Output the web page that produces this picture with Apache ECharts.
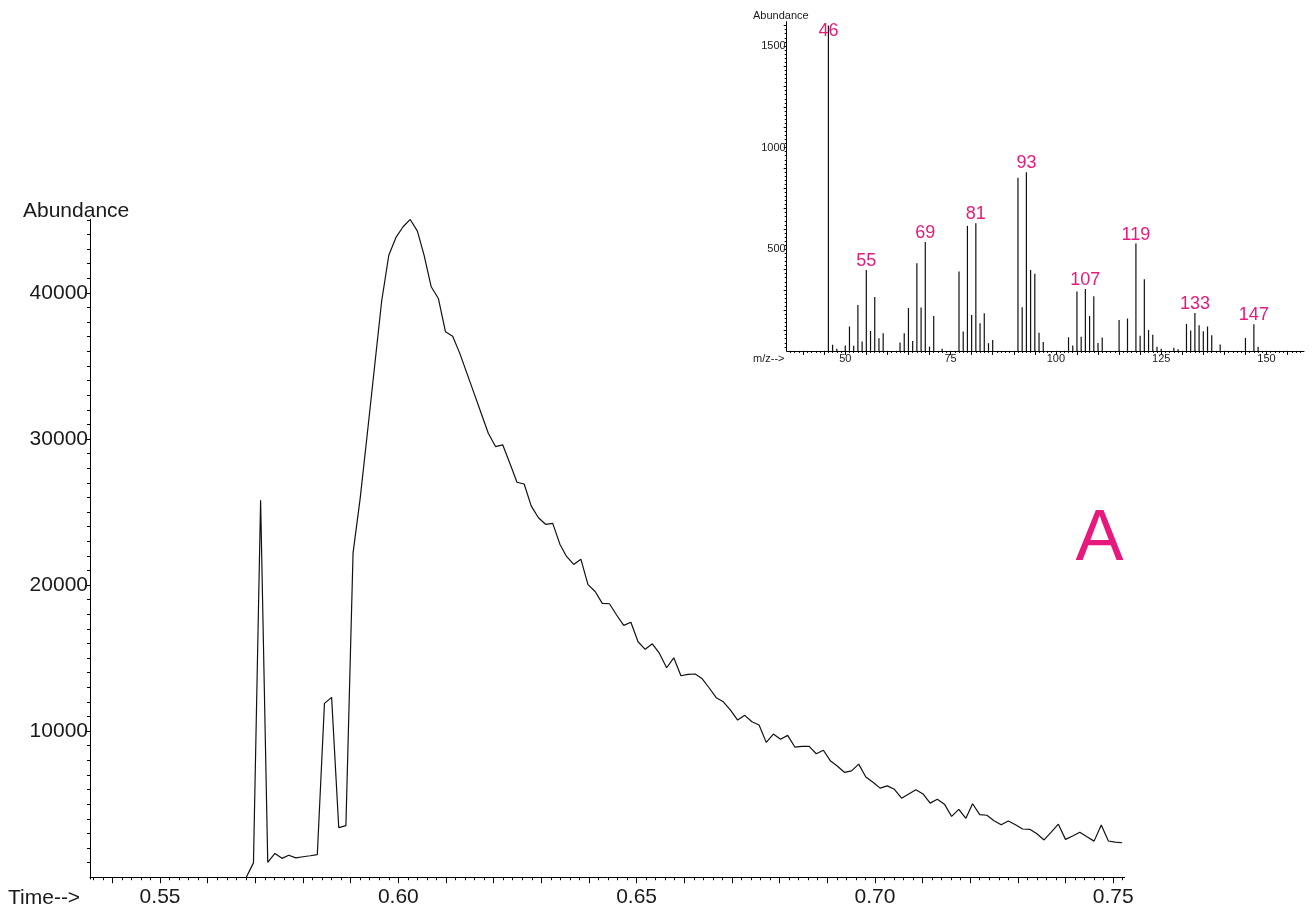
<!DOCTYPE html>
<html>
<head>
<meta charset="utf-8">
<title>TIC and spectrum</title>
<script src="https://cdn.jsdelivr.net/npm/echarts@6.0.0/dist/echarts.min.js"></script>
<style>
  html, body { margin: 0; padding: 0; background: #fff; }
  #main { width: 1312px; height: 912px; }
</style>
</head>
<body>
<div id="main"></div>
<script>
// chromatogram (time in min, abundance)
var times = [
  0.5681, 0.5696, 0.5711, 0.5726, 0.5741, 0.5756, 0.5770, 0.5785, 0.5800, 0.5815,
  0.5830, 0.5845, 0.5860, 0.5875, 0.5890, 0.5905, 0.5920, 0.5935, 0.5950, 0.5965,
  0.5980, 0.5995, 0.6010, 0.6025, 0.6040, 0.6054, 0.6069, 0.6084, 0.6099, 0.6114,
  0.6129, 0.6144, 0.6159, 0.6174, 0.6189, 0.6204, 0.6219, 0.6234, 0.6249, 0.6264,
  0.6279, 0.6294, 0.6309, 0.6324, 0.6339, 0.6353, 0.6368, 0.6383, 0.6398, 0.6413,
  0.6428, 0.6443, 0.6458, 0.6473, 0.6488, 0.6503, 0.6518, 0.6533, 0.6548, 0.6563,
  0.6578, 0.6593, 0.6608, 0.6623, 0.6637, 0.6652, 0.6667, 0.6682, 0.6697, 0.6712,
  0.6727, 0.6742, 0.6757, 0.6772, 0.6787, 0.6802, 0.6817, 0.6832, 0.6847, 0.6862,
  0.6877, 0.6892, 0.6907, 0.6921, 0.6936, 0.6951, 0.6966, 0.6981, 0.6996, 0.7011,
  0.7026, 0.7041, 0.7056, 0.7071, 0.7086, 0.7101, 0.7116, 0.7131, 0.7146, 0.7161,
  0.7176, 0.7191, 0.7205, 0.7220, 0.7235, 0.7250, 0.7265, 0.7280, 0.7295, 0.7310,
  0.7325, 0.7340, 0.7355, 0.7370, 0.7385, 0.7400, 0.7415, 0.7430, 0.7445, 0.7460,
  0.7475, 0.7490, 0.7504, 0.7519
];
var abundance = [
  0, 980, 25800, 1020, 1630, 1290, 1500, 1320, 1400, 1470,
  1550, 11900, 12310, 3390, 3530, 22200, 25950, 30390, 34910, 39430,
  42580, 43800, 44530, 45030, 44230, 42590, 40420, 39620, 37340, 37040,
  35860, 34490, 33120, 31750, 30380, 29480, 29600, 28340, 27040, 26920,
  25400, 24610, 24160, 24220, 22800, 21960, 21410, 21770, 20030, 19560,
  18750, 18720, 17950, 17240, 17450, 16120, 15600, 15980, 15320, 14340,
  15020, 13790, 13890, 13910, 13610, 12970, 12290, 12010, 11440, 10760,
  11080, 10640, 10420, 9230, 9800, 9440, 9710, 8910, 8960, 8960,
  8450, 8690, 7950, 7610, 7180, 7280, 7740, 6860, 6500, 6100,
  6250, 6020, 5410, 5700, 5980, 5700, 5070, 5340, 5000, 4160,
  4640, 4030, 5030, 4280, 4240, 3870, 3590, 3850, 3590, 3300,
  3280, 2970, 2550, 3080, 3630, 2590, 2820, 3080, 2770, 2470,
  3580, 2480, 2400, 2360
];

// mass spectrum (inset)
var mz = [
  46, 47, 48, 50, 51, 52, 53, 54, 55, 56, 57, 58, 59, 63, 64, 65, 66, 67, 68, 69,
  70, 71, 73, 77, 78, 79, 80, 81, 82, 83, 84, 85, 91, 92, 93, 94, 95, 96, 97, 103,
  104, 105, 106, 107, 108, 109, 110, 111, 115, 117, 119, 120, 121, 122, 123, 124, 125, 128, 129, 131,
  132, 133, 134, 135, 136, 137, 139, 145, 147, 148
];
var mzAbundance = [
  1600, 30, 10, 26, 120, 25, 226, 46, 398, 98, 265, 62, 87, 41, 87, 211, 49, 431, 213, 536,
  21, 172, 10, 390, 95, 615, 177, 628, 136, 185, 38, 54, 851, 215, 879, 398, 379, 89, 44, 67,
  26, 292, 69, 305, 172, 269, 39, 66, 152, 159, 528, 75, 352, 103, 79, 21, 11, 16, 8, 133,
  100, 187, 126, 97, 120, 77, 31, 64, 131, 20
];
var labeledPeaks = [46, 55, 69, 81, 93, 107, 119, 133, 147];

// tick labels
var timeLabels = [0.55, 0.60, 0.65, 0.70, 0.75];
var abundanceLabels = [10000, 20000, 30000, 40000];
var mzLabels = [50, 75, 100, 125, 150];
var mzAbundanceLabels = [500, 1000, 1500];

function steps(from, to, step) {
  var out = [];
  for (var k = Math.ceil(from / step - 1e-9); k * step <= to + 1e-9; k++) {
    out.push(+(k * step).toFixed(6));
  }
  return out;
}

function plain(v) { return String(v); }

var FONT = '"Liberation Sans", Arial, sans-serif';
var INK = '#1a1a1a';
var PINK = '#e8197d';

var mainX = { min: 0.5353, max: 0.7524 };
var mainY = { min: -123, max: 45040 };
var insetX = { min: 36.1, max: 158.9 };
var insetY = { min: 0, max: 1619 };

function tickAxis(range, gridIndex, ticks, len, position) {
  return {
    type: 'value', gridIndex: gridIndex, min: range.min, max: range.max, position: position,
    axisLine: { show: false },
    axisTick: { show: true, length: len, customValues: ticks, lineStyle: { color: '#000', width: 1 } },
    axisLabel: { show: false },
    splitLine: { show: false }
  };
}

var myChart = echarts.init(document.getElementById('main'));

var option = {
  animation: false,
  backgroundColor: '#fff',
  grid: [
    { left: 90, right: 187.4, top: 219.3, bottom: 33 },
    { left: 786.7, right: 8, top: 21.7, bottom: 561.1 }
  ],
  xAxis: [
    {
      type: 'value', gridIndex: 0, min: mainX.min, max: mainX.max, position: 'bottom',
      axisLine: { show: true, lineStyle: { color: '#000', width: 1 } },
      axisTick: { show: true, length: 3, customValues: steps(0.536, 0.752, 0.002), lineStyle: { color: '#000' } },
      axisLabel: {
        show: true, customValues: timeLabels, margin: 8, color: INK, fontSize: 21, fontFamily: FONT,
        formatter: function (v) { return v.toFixed(2); }
      },
      splitLine: { show: false }
    },
    tickAxis(mainX, 0, steps(0.54, 0.75, 0.01), 6, 'bottom'),
    {
      type: 'value', gridIndex: 1, min: insetX.min, max: insetX.max, position: 'bottom',
      axisLine: { show: true, lineStyle: { color: '#000', width: 1 } },
      axisTick: { show: true, length: 2, customValues: steps(37, 158, 1), lineStyle: { color: '#000' } },
      axisLabel: { show: true, customValues: mzLabels, margin: 3, color: INK, fontSize: 11, fontFamily: FONT, formatter: plain },
      splitLine: { show: false }
    },
    tickAxis(insetX, 1, steps(40, 155, 5), 4, 'bottom')
  ],
  yAxis: [
    {
      type: 'value', gridIndex: 0, min: mainY.min, max: mainY.max, position: 'left',
      axisLine: { show: true, lineStyle: { color: '#000', width: 1 } },
      axisTick: { show: true, length: 3, customValues: steps(1000, 45000, 1000), lineStyle: { color: '#000' } },
      axisLabel: { show: true, customValues: abundanceLabels, margin: 2, color: INK, fontSize: 21, fontFamily: FONT, formatter: plain },
      splitLine: { show: false }
    },
    tickAxis(mainY, 0, steps(10000, 40000, 10000), 5, 'left'),
    {
      type: 'value', gridIndex: 1, min: insetY.min, max: insetY.max, position: 'left',
      axisLine: { show: true, lineStyle: { color: '#000', width: 1 } },
      axisTick: { show: true, length: 2, customValues: steps(20, 1600, 20), lineStyle: { color: '#000' } },
      axisLabel: { show: true, customValues: mzAbundanceLabels, margin: 1, color: INK, fontSize: 11, fontFamily: FONT, formatter: plain },
      splitLine: { show: false }
    },
    tickAxis(insetY, 1, steps(100, 1600, 100), 3, 'left')
  ],
  graphic: [
    { type: 'text', x: 23, y: 211, style: { text: 'Abundance', font: '21px ' + FONT, fill: INK, align: 'left', verticalAlign: 'middle' } },
    { type: 'text', x: 8, y: 898, style: { text: 'Time-->', font: '21px ' + FONT, fill: INK, align: 'left', verticalAlign: 'middle' } },
    { type: 'text', x: 753, y: 16, style: { text: 'Abundance', font: '11px ' + FONT, fill: INK, align: 'left', verticalAlign: 'middle' } },
    { type: 'text', x: 753, y: 359, style: { text: 'm/z-->', font: '11px ' + FONT, fill: INK, align: 'left', verticalAlign: 'middle' } },
    { type: 'text', x: 1099.5, y: 540, style: { text: 'A', font: '72px ' + FONT, fill: PINK, align: 'center', verticalAlign: 'middle' } }
  ],
  series: [
    {
      type: 'line', xAxisIndex: 0, yAxisIndex: 0,
      data: times.map(function (t, i) { return [t, abundance[i]]; }),
      symbol: 'none',
      lineStyle: { color: '#111', width: 1.2 }
    },
    {
      type: 'bar', xAxisIndex: 2, yAxisIndex: 2,
      barWidth: 1.2,
      itemStyle: { color: '#111' },
      label: {
        show: true, position: 'top', distance: 0, color: PINK, fontSize: 18, fontFamily: FONT,
        formatter: function (p) { return labeledPeaks.indexOf(p.value[0]) >= 0 ? String(p.value[0]) : ''; }
      },
      data: mz.map(function (m, i) {
        var item = { value: [m, mzAbundance[i]] };
        if (m === 46) item.label = { offset: [0, 14] };
        return item;
      })
    }
  ]
};

myChart.setOption(option);

window.addEventListener('resize', function () {
  myChart.resize();
});
</script>
</body>
</html>
